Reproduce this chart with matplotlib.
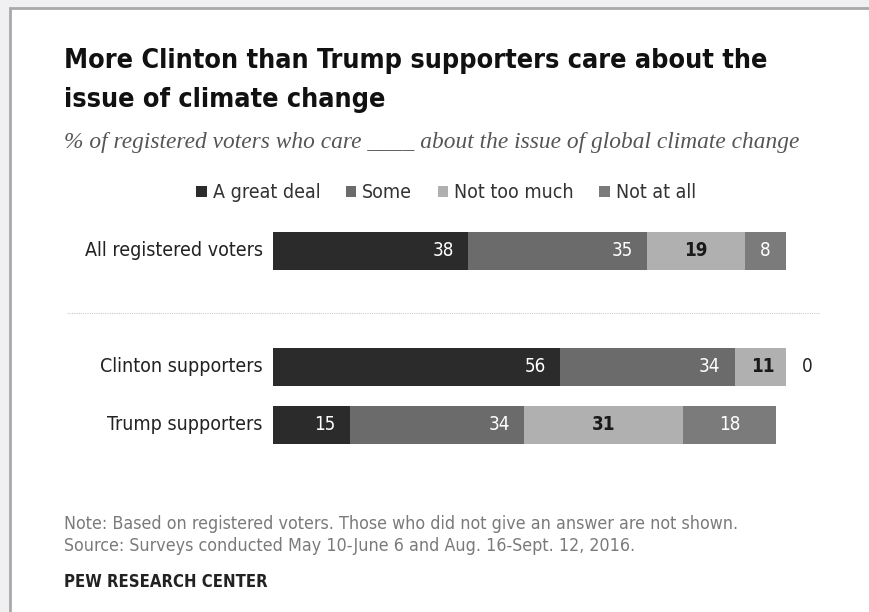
import matplotlib
matplotlib.use("Agg")
import matplotlib.pyplot as plt
from matplotlib.patches import Rectangle, Patch

# data
groups = ["All registered voters", "Clinton supporters", "Trump supporters"]
responses = ["A great deal", "Some", "Not too much", "Not at all"]
great_deal = [38, 56, 15]
some = [35, 34, 34]
not_too_much = [19, 11, 31]
not_at_all = [8, 0, 18]

colors = ["#2b2b2b", "#6b6b6b", "#b0b0b0", "#7b7b7b"]
label_colors = ["white", "white", "#1a1a1a", "white"]

W, H = 869, 612
fx = lambda px: px / W
fy = lambda py: 1 - py / H

narrow = ["DejaVu Sans"]
cond = "condensed"

fig = plt.figure(figsize=(W / 100, H / 100), dpi=100, facecolor="#f0f0f2")
# white panel with grey frame
fig.patches.append(Rectangle((fx(10), fy(H + 20)), 1.1, fy(8) - fy(H + 20),
                             transform=fig.transFigure, facecolor="white",
                             edgecolor="#a9a9a9", linewidth=2, zorder=-5))

# title / subtitle
fig.text(fx(64), fy(61), "More Clinton than Trump supporters care about the",
         family=narrow, stretch=cond, fontsize=19.4, fontweight="bold", color="#111111", va="center")
fig.text(fx(64), fy(100), "issue of climate change",
         family=narrow, stretch=cond, fontsize=19.4, fontweight="bold", color="#111111", va="center")
fig.text(fx(64), fy(142),
         "% of registered voters who care ____ about the issue of global climate change",
         family=["Liberation Serif", "DejaVu Serif"], fontsize=16.8, style="italic",
         color="#555555", va="center")

# bars
ax = fig.add_axes([fx(273), fy(454), fx(786) - fx(273), fy(222) - fy(454)])
ypos = [0, 2, 3]
series = [great_deal, some, not_too_much, not_at_all]
left = [0, 0, 0]
handles = []
for i, vals in enumerate(series):
    ax.barh(ypos, vals, left=left, height=0.66, color=colors[i], linewidth=0)
    for j, v in enumerate(vals):
        if v == 0:
            ax.text(left[j] + 2, ypos[j], str(v), ha="left", va="center",
                    family=narrow, stretch=cond, fontsize=13.5, color="#222222")
        elif i < 2:
            ax.text(left[j] + v - 2.8, ypos[j], str(v), ha="right", va="center",
                    family=narrow, stretch=cond, fontsize=13.5, color=label_colors[i])
        else:
            ax.text(left[j] + v / 2, ypos[j], str(v), ha="center", va="center",
                    family=narrow, stretch=cond, fontsize=13.5, color=label_colors[i],
                    fontweight="semibold" if i == 2 else "normal")
    left = [l + v for l, v in zip(left, vals)]
    handles.append(Patch(facecolor=colors[i], edgecolor="none", label=responses[i]))

for j, g in enumerate(groups):
    ax.text(-2, ypos[j], g, ha="right", va="center", family=narrow, stretch=cond,
            fontsize=14, color="#222222")

ax.plot([-40.2, 106.6], [1.07, 1.07], color="#cccccc", linewidth=0.8,
        linestyle=(0, (1, 1)), clip_on=False)

ax.set_xlim(0, 100)
ax.set_ylim(3.5, -0.5)
ax.axis("off")

fig.legend(handles=handles, loc="center", bbox_to_anchor=(fx(446), fy(193)),
           ncol=4, frameon=False, handlelength=0.55, handleheight=0.55,
           handletextpad=0.3, columnspacing=1.3,
           prop={"family": narrow, "stretch": cond, "size": 14}, labelcolor="#333333")

# footer
fig.text(fx(64), fy(524),
         "Note: Based on registered voters. Those who did not give an answer are not shown.",
         family=narrow, stretch=cond, fontsize=12.8, color="#7a7a7a", va="center")
fig.text(fx(64), fy(546),
         "Source: Surveys conducted May 10-June 6 and Aug. 16-Sept. 12, 2016.",
         family=narrow, stretch=cond, fontsize=12.8, color="#7a7a7a", va="center")
fig.text(fx(64), fy(582), "PEW RESEARCH CENTER",
         family=narrow, stretch=cond, fontsize=12, fontweight="bold", color="#222222", va="center")

fig.savefig("out.png", dpi=100, facecolor=fig.get_facecolor())
